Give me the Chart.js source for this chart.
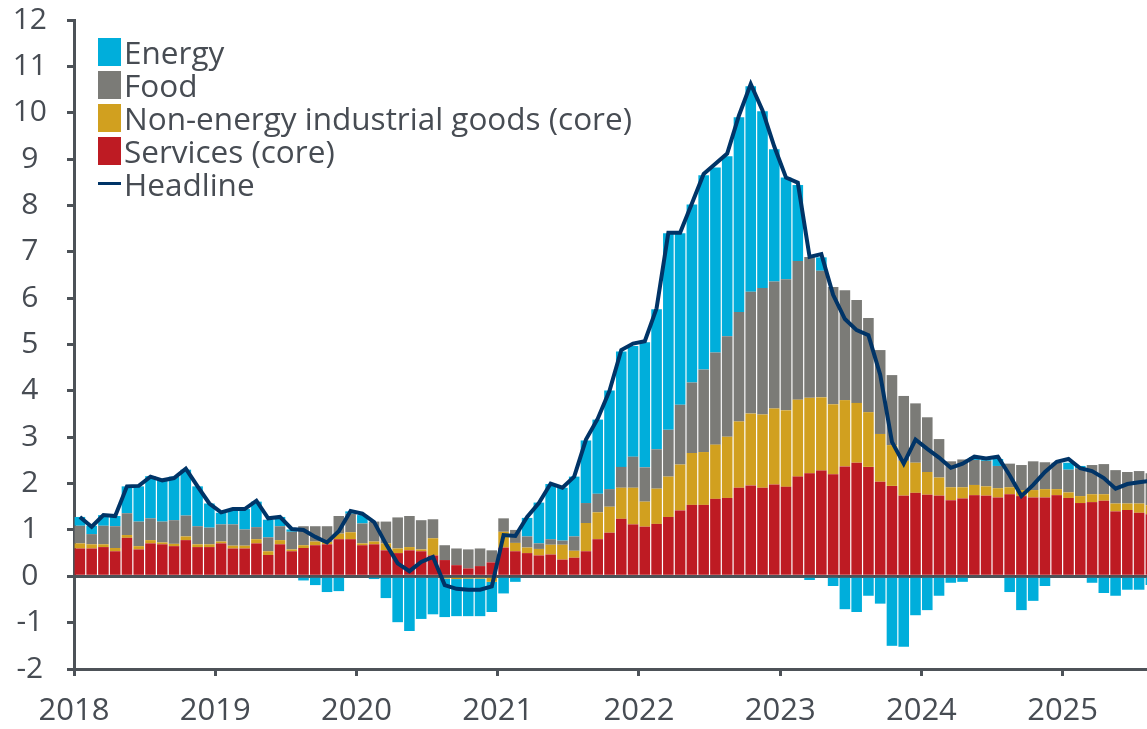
<!DOCTYPE html>
<html>
<head>
<meta charset="utf-8">
<title>HICP inflation contributions</title>
<script src="https://cdn.jsdelivr.net/npm/chart.js@4.4.1/dist/chart.umd.min.js"></script>
<style>
    html, body { margin: 0; padding: 0; background: #ffffff; }
    #wrap { position: relative; width: 1147px; height: 729px; }
    #legend {
        position: absolute; left: 98px; top: 35px;
        font-family: 'Open Sans', sans-serif; font-size: 31.5px; color: #474c53;
    }
    .row { display: flex; align-items: center; height: 33px; white-space: nowrap; }
    .swatch { width: 23px; height: 28px; margin-right: 3px; }
    .dash { width: 23px; height: 3px; margin-right: 3px; }
</style>
</head>
<body>
<div id="wrap">
    <canvas id="chart" width="1147" height="729"></canvas>
    <div id="legend"></div>
</div>
<script>
// Monthly contributions, Jan 2018 .. Aug 2025 (percentage points)
const yearLabels = ['2018', '2019', '2020', '2021', '2022', '2023', '2024', '2025'];

const services = [
    0.60, 0.60, 0.63, 0.54, 0.83, 0.58, 0.71, 0.69, 0.65, 0.78, 0.63, 0.63,
    0.71, 0.60, 0.60, 0.71, 0.46, 0.69, 0.54, 0.61, 0.67, 0.69, 0.80, 0.80,
    0.67, 0.69, 0.56, 0.50, 0.56, 0.54, 0.45, 0.35, 0.24, 0.17, 0.22, 0.30,
    0.62, 0.54, 0.50, 0.45, 0.47, 0.36, 0.40, 0.54, 0.80, 0.94, 1.24, 1.12,
    1.07, 1.13, 1.28, 1.42, 1.54, 1.54, 1.67, 1.69, 1.91, 1.96, 1.91, 1.98,
    1.93, 2.15, 2.22, 2.28, 2.20, 2.37, 2.45, 2.36, 2.04, 1.95, 1.74, 1.80,
    1.76, 1.74, 1.64, 1.68, 1.75, 1.74, 1.70, 1.77, 1.73, 1.70, 1.70, 1.75,
    1.69, 1.58, 1.60, 1.63, 1.40, 1.43, 1.37, 1.34
];

const neig = [
    0.11, 0.09, 0.06, 0.07, 0.06, 0.07, 0.07, 0.04, 0.05, 0.08, 0.06, 0.06,
    0.04, 0.06, 0.06, 0.09, 0.08, 0.09, 0.04, 0.06, 0.08, 0.05, 0.12, 0.15,
    0.04, 0.06, 0.15, 0.10, 0.07, 0.04, 0.37, -0.05, -0.06, -0.05, -0.05, -0.12,
    0.34, 0.18, 0.12, 0.14, 0.21, 0.32, 0.15, 0.61, 0.58, 0.56, 0.67, 0.79,
    0.54, 0.76, 0.87, 0.99, 1.12, 1.14, 1.17, 1.32, 1.43, 1.55, 1.58, 1.64,
    1.65, 1.66, 1.63, 1.58, 1.51, 1.43, 1.29, 1.18, 1.03, 0.88, 0.75, 0.65,
    0.49, 0.39, 0.28, 0.24, 0.22, 0.20, 0.20, 0.15, 0.13, 0.16, 0.18, 0.13,
    0.12, 0.15, 0.17, 0.14, 0.17, 0.14, 0.20, 0.19
];

const food = [
    0.38, 0.22, 0.40, 0.47, 0.47, 0.53, 0.47, 0.45, 0.51, 0.45, 0.39, 0.36,
    0.37, 0.46, 0.35, 0.26, 0.30, 0.30, 0.38, 0.41, 0.33, 0.34, 0.38, 0.40,
    0.43, 0.43, 0.47, 0.67, 0.67, 0.63, 0.41, 0.32, 0.36, 0.41, 0.38, 0.26,
    0.29, 0.28, 0.24, 0.12, 0.12, 0.09, 0.31, 0.43, 0.40, 0.38, 0.45, 0.67,
    0.74, 0.85, 1.01, 1.29, 1.52, 1.78, 1.99, 2.17, 2.36, 2.63, 2.73, 2.74,
    2.83, 2.99, 3.04, 2.73, 2.53, 2.37, 2.22, 2.03, 1.81, 1.51, 1.40, 1.28,
    1.18, 0.83, 0.56, 0.60, 0.54, 0.55, 0.48, 0.51, 0.54, 0.62, 0.58, 0.57,
    0.49, 0.60, 0.63, 0.65, 0.72, 0.68, 0.70, 0.69
];

const energy = [
    0.19, 0.18, 0.23, 0.22, 0.58, 0.76, 0.91, 0.89, 0.94, 0.99, 0.86, 0.52,
    0.25, 0.32, 0.44, 0.55, 0.38, 0.20, 0.05, -0.09, -0.19, -0.34, -0.32, 0.05,
    0.18, -0.06, -0.47, -0.99, -1.18, -0.92, -0.82, -0.83, -0.80, -0.81, -0.81, -0.65,
    -0.37, -0.12, 0.40, 0.88, 1.19, 1.14, 1.29, 1.35, 1.60, 2.13, 2.49, 2.39,
    2.70, 3.02, 4.24, 3.70, 3.84, 4.19, 3.99, 3.88, 4.20, 4.43, 3.81, 2.85,
    2.19, 1.64, -0.08, 0.29, -0.21, -0.71, -0.77, -0.42, -0.59, -1.50, -1.52, -0.84,
    -0.73, -0.42, -0.14, -0.12, 0.06, 0.03, 0.15, -0.34, -0.73, -0.53, -0.21, 0.00,
    0.15, 0.05, -0.14, -0.36, -0.42, -0.29, -0.29, -0.19
];

const headline = [
    1.28, 1.07, 1.32, 1.30, 1.94, 1.95, 2.15, 2.07, 2.12, 2.32, 1.94, 1.57,
    1.38, 1.45, 1.45, 1.63, 1.25, 1.28, 1.02, 1.00, 0.85, 0.73, 0.97, 1.41,
    1.35, 1.17, 0.70, 0.28, 0.11, 0.31, 0.42, -0.19, -0.27, -0.29, -0.29, -0.22,
    0.89, 0.87, 1.28, 1.58, 2.00, 1.91, 2.15, 2.95, 3.40, 4.00, 4.88, 5.02,
    5.07, 5.78, 7.41, 7.41, 8.04, 8.68, 8.90, 9.12, 9.94, 10.62, 10.05, 9.27,
    8.60, 8.49, 6.89, 6.95, 6.07, 5.55, 5.31, 5.20, 4.35, 2.90, 2.43, 2.95,
    2.75, 2.56, 2.34, 2.43, 2.58, 2.54, 2.58, 2.18, 1.73, 1.97, 2.25, 2.47,
    2.53, 2.33, 2.27, 2.12, 1.89, 1.99, 2.03, 2.06
];

document.addEventListener('DOMContentLoaded', function() {
    const colors = {
        energy: '#00aedb',
        food: '#7b7b77',
        neig: '#d1a01f',
        services: '#be1b23',
        headline: '#003467',
        text: '#474c53',
        axis: '#4d5258'
    };
    const fontFamily = "'Open Sans', sans-serif";

    // month i is drawn in the middle of its slot on a linear month axis
    const toPoints = vals => vals.map((v, i) => ({ x: i + 0.5, y: v }));
    const yearTicks = yearLabels.map((label, k) => k * 12);

    const barDefaults = {
        type: 'bar',
        stack: 'hicp',
        barPercentage: 0.9,
        categoryPercentage: 1,
        borderWidth: 0,
        order: 1
    };

    // bottom-to-top stacking order: services, NEIG, food, energy
    const datasets = [
        Object.assign({ label: 'Services (core)', data: toPoints(services), backgroundColor: colors.services }, barDefaults),
        Object.assign({ label: 'Non-energy industrial goods (core)', data: toPoints(neig), backgroundColor: colors.neig }, barDefaults),
        Object.assign({ label: 'Food', data: toPoints(food), backgroundColor: colors.food }, barDefaults),
        Object.assign({ label: 'Energy', data: toPoints(energy), backgroundColor: colors.energy }, barDefaults),
        {
            type: 'line',
            label: 'Headline',
            stack: 'line',
            data: toPoints(headline),
            borderColor: colors.headline,
            borderWidth: 4,
            pointRadius: 0,
            tension: 0,
            fill: false,
            order: 0
        }
    ];

    new Chart(document.getElementById('chart'), {
        type: 'bar',
        data: { datasets: datasets },
        options: {
            responsive: false,
            animation: false,
            devicePixelRatio: 1,
            layout: { padding: { top: 20, right: 0, left: 0, bottom: 0 } },
            plugins: {
                legend: { display: false },
                tooltip: { enabled: false }
            },
            scales: {
                x: {
                    type: 'linear',
                    stacked: true,
                    offset: false,
                    min: 0,
                    max: 91.17,
                    afterBuildTicks: function(scale) {
                        scale.ticks = yearTicks.map(v => ({ value: v }));
                    },
                    afterFit: function(scale) { scale.height = 60; },
                    ticks: {
                        callback: function(value) { return yearLabels[Math.round(value / 12)]; },
                        autoSkip: false,
                        maxRotation: 0,
                        padding: 17,
                        color: colors.text,
                        font: { family: fontFamily, size: 31 }
                    },
                    grid: {
                        offset: false,
                        drawOnChartArea: false,
                        tickLength: 7,
                        tickColor: colors.axis,
                        lineWidth: 3
                    },
                    border: { color: colors.axis, width: 3 }
                },
                y: {
                    stacked: true,
                    min: -2,
                    max: 12,
                    afterFit: function(scale) {
                        scale.width = 74;
                        // the label padding should not push the plot down
                        scale.paddingTop = 0;
                        scale.paddingBottom = 0;
                    },
                    ticks: {
                        stepSize: 1,
                        crossAlign: 'center',
                        padding: 20,
                        color: colors.text,
                        font: { family: fontFamily, size: 30 }
                    },
                    grid: {
                        color: function(ctx) {
                            return ctx.tick && ctx.tick.value === 0 ? colors.axis : 'rgba(0,0,0,0)';
                        },
                        tickColor: colors.axis,
                        tickLength: 7,
                        lineWidth: 3
                    },
                    border: { color: colors.axis, width: 3 }
                }
            }
        }
    });

    // Legend drawn as HTML inside the plot, top-left
    const legendItems = [
        { label: 'Energy', color: colors.energy, line: false },
        { label: 'Food', color: colors.food, line: false },
        { label: 'Non-energy industrial goods (core)', color: colors.neig, line: false },
        { label: 'Services (core)', color: colors.services, line: false },
        { label: 'Headline', color: colors.headline, line: true }
    ];
    const legend = document.getElementById('legend');
    legendItems.forEach(item => {
        const row = document.createElement('div');
        row.className = 'row';
        const mark = document.createElement('div');
        mark.className = item.line ? 'dash' : 'swatch';
        mark.style.background = item.color;
        const text = document.createElement('span');
        text.textContent = item.label;
        row.appendChild(mark);
        row.appendChild(text);
        legend.appendChild(row);
    });
});
</script>
</body>
</html>
